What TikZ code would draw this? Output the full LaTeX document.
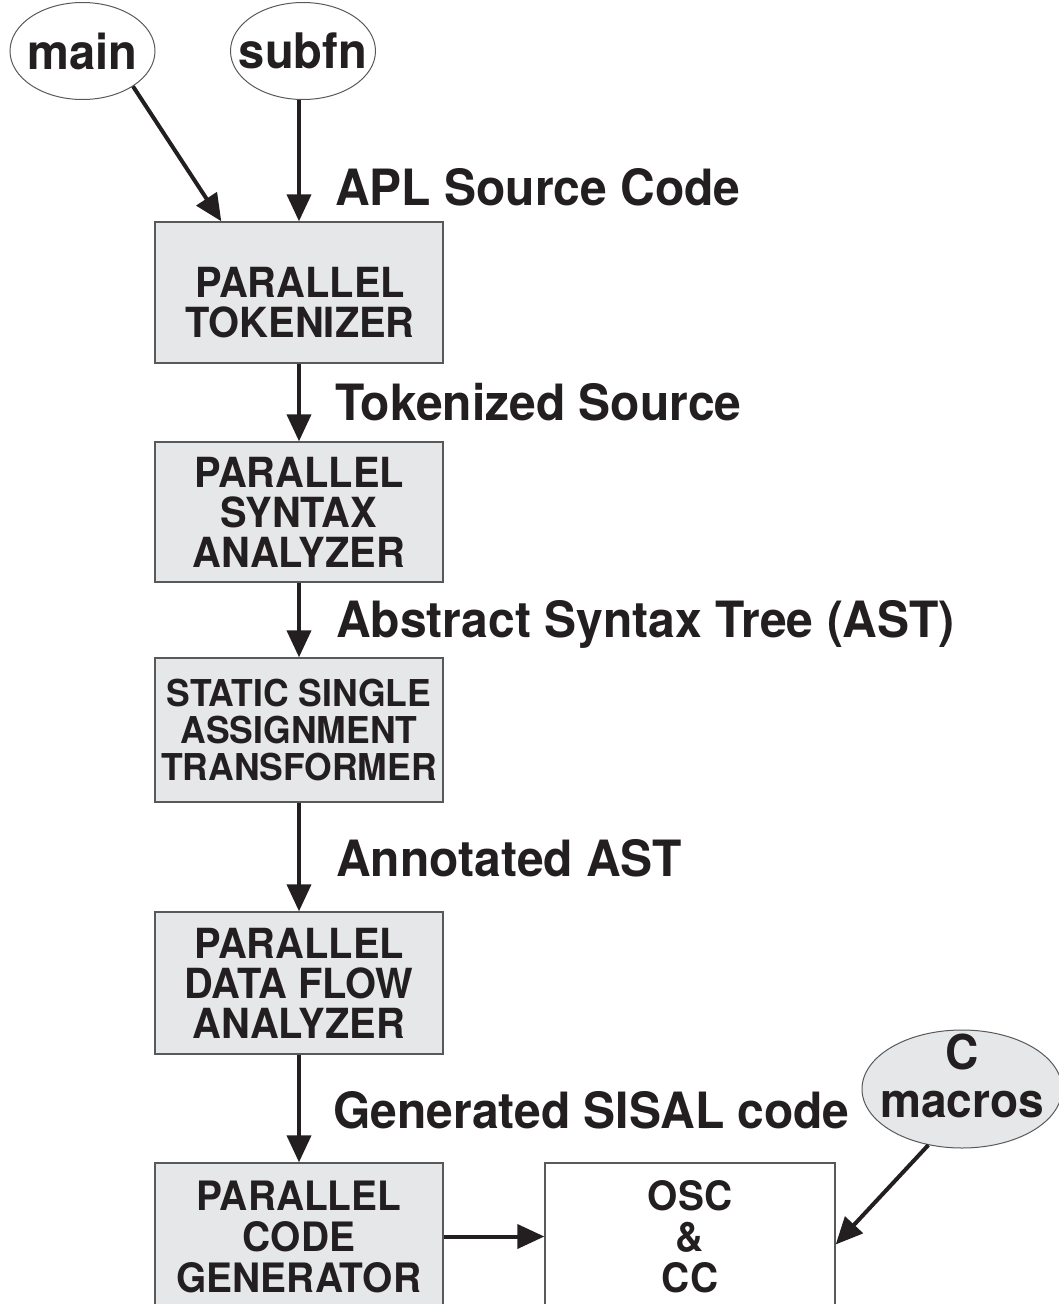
\documentclass[tikz,border=0pt]{standalone}
\usepackage{fontspec}
\setmainfont{TeX Gyre Heros}[FakeStretch=0.96]
\usetikzlibrary{shapes.geometric,arrows.meta}
\definecolor{ink}{HTML}{231F20}
\definecolor{boxfill}{HTML}{E6E7E8}
\definecolor{edge}{HTML}{58595B}
\begin{document}
\begin{tikzpicture}[x=1pt,y=-1pt,
  every node/.style={text=ink},
  procbox/.style={draw=edge,line width=1.4pt,fill=boxfill,minimum width=288pt,inner sep=0pt,align=center,font=\fontsize{41.5}{40}\selectfont\bfseries},
  boxtext/.style={inner sep=0pt,align=center,font=\fontsize{41.5}{40}\selectfont\bfseries},
  srcoval/.style={ellipse,draw=edge,line width=1pt,inner sep=0pt,minimum width=145pt,minimum height=97pt,font=\fontsize{49}{49}\selectfont\bfseries},
  flowlabel/.style={anchor=base west,inner sep=0pt,font=\fontsize{50}{50}\selectfont\bfseries},
  flow/.style={draw=ink,line width=4pt,-{Triangle[length=27pt,width=24pt]}}]
\useasboundingbox (0,0) rectangle (1058,1304);
% source ovals
\node[srcoval] (main) at (82.5,51) {\makebox[0pt]{main}};
\node[srcoval] (subfn) at (303,51) {\makebox[0pt]{subfn}};
% process boxes
\node[procbox,minimum height=141pt] (tok) at (299,292.5) {};
\node[boxtext] (toktext) at (300,303) {PARALLEL\\TOKENIZER};
\node[procbox,minimum height=140pt] (syn) at (299,512) {PARALLEL\\SYNTAX\\ANALYZER};
\node[procbox,minimum height=144pt,font=\fontsize{37}{37}\selectfont\bfseries] (ssa) at (299,730) {STATIC SINGLE\\ASSIGNMENT\\TRANSFORMER};
\node[procbox,minimum height=142pt] (dfa) at (299,983) {PARALLEL\\DATA FLOW\\ANALYZER};
\node[procbox,minimum height=147pt,font=\fontsize{40.5}{41}\selectfont\bfseries] (gen) at (299,1236.5) {PARALLEL\\CODE\\GENERATOR};
\node[procbox,fill=white,minimum width=290pt,minimum height=147pt,font=\fontsize{40.5}{41}\selectfont\bfseries] (osc) at (690,1236.5) {OSC\\\&\\CC};
% C macros oval
\node[srcoval,fill=boxfill,minimum width=200pt,minimum height=118pt] (cmac) at (962,1089) {};
\node[inner sep=0pt,align=center,font=\fontsize{48}{48}\selectfont\bfseries] (cmactext) at (962,1076) {C\\macros};
% labels
\node[flowlabel] (l1) at (335,205) {APL Source Code};
\node[flowlabel] (l2) at (335,420) {Tokenized Source};
\node[flowlabel] (l3) at (336,637) {Abstract Syntax Tree (AST)};
\node[flowlabel] (l4) at (336,876) {Annotated AST};
\node[flowlabel] (l5) at (333,1128) {Generated SISAL code};
% connectors
\draw[flow] (main.-35) -- ([xshift=67pt]tok.north west);
\draw[flow] (subfn.south -| tok.north) -- (tok.north);
\draw[flow] (tok) -- (syn);
\draw[flow] (syn) -- (ssa);
\draw[flow] (ssa) -- (dfa);
\draw[flow] (dfa) -- (gen);
\draw[flow] (gen) -- (osc);
\draw[flow] (cmac.239) -- ([yshift=-8pt]osc.east);
\end{tikzpicture}
\end{document}
